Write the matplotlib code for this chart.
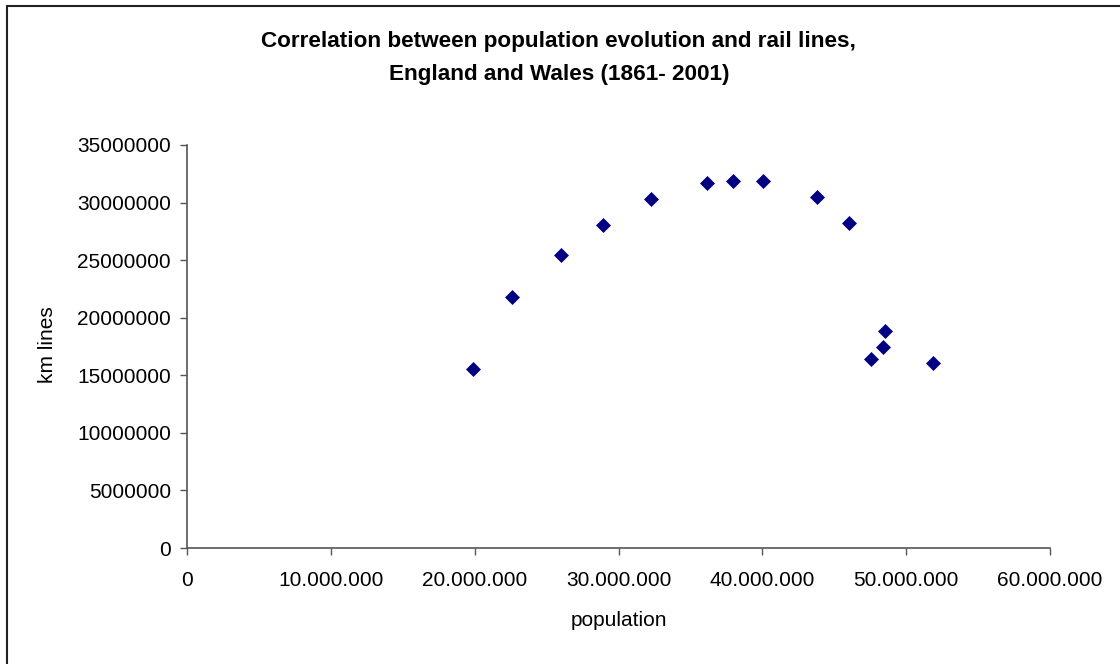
import numpy as np
import matplotlib
matplotlib.use('Agg')
import matplotlib.pyplot as plt
from matplotlib.ticker import FuncFormatter
from matplotlib.patches import Rectangle

# census population vs km of rail lines
population = [19890000, 22630000, 25990000, 28890000, 32230000, 36140000, 37950000,
              40030000, 43790000, 46010000, 47540000, 48380000, 48520000, 51860000]
km_lines = [15580000, 21800000, 25440000, 28050000, 30280000, 31720000, 31870000,
            31870000, 30480000, 28220000, 16420000, 17490000, 18850000, 16100000]

x_ticks = [0, 10000000, 20000000, 30000000, 40000000, 50000000, 60000000]
y_ticks = [0, 5000000, 10000000, 15000000, 20000000, 25000000, 30000000, 35000000]

plt.rcParams['font.family'] = ['Liberation Sans', 'DejaVu Sans']

fig = plt.figure(figsize=(11.2, 6.64), dpi=100)
ax = fig.add_axes([187/1120, 1-548/664, 863/1120, 403/664])

ax.plot(population, km_lines, linestyle='none', marker='D', markersize=7,
        color='#000080', markeredgecolor='#000080', markeredgewidth=0.5, clip_on=False)

ax.set_xlim(0, 60000000)
ax.set_ylim(0, 35000000)
ax.set_xticks(x_ticks)
ax.set_yticks(y_ticks)
ax.xaxis.set_major_formatter(FuncFormatter(lambda v, p: '{:,.0f}'.format(v).replace(',', '.')))
ax.yaxis.set_major_formatter(FuncFormatter(lambda v, p: '{:.0f}'.format(v)))

for s in ['top', 'right']:
    ax.spines[s].set_visible(False)
for s in ['left', 'bottom']:
    ax.spines[s].set_color('#555555')
    ax.spines[s].set_linewidth(1.2)
ax.tick_params(direction='out', length=5, width=1, color='#555555', labelsize=15)
ax.tick_params(axis='x', pad=11.5)
ax.tick_params(axis='y', pad=6.5)

ax.set_xlabel('population', fontsize=15, va='center')
ax.set_ylabel('km lines', fontsize=15, va='center')
ax.xaxis.set_label_coords(0.5, (548-621)/403)
ax.yaxis.set_label_coords((47.5-187)/863, (548-345)/403)

fig.text(0.499, 1-58/664, 'Correlation between population evolution and rail lines,\nEngland and Wales (1861- 2001)',
         ha='center', va='center', fontsize=16.2, fontweight='bold', linespacing=1.7)

# outer chart frame (runs off the right and bottom edges)
fig.patches.append(Rectangle((7/1120, -0.05), 1.1, 1-6/664+0.05, transform=fig.transFigure,
                             fill=False, edgecolor='#222222', linewidth=1.5))

fig.savefig('out.png', dpi=100)
